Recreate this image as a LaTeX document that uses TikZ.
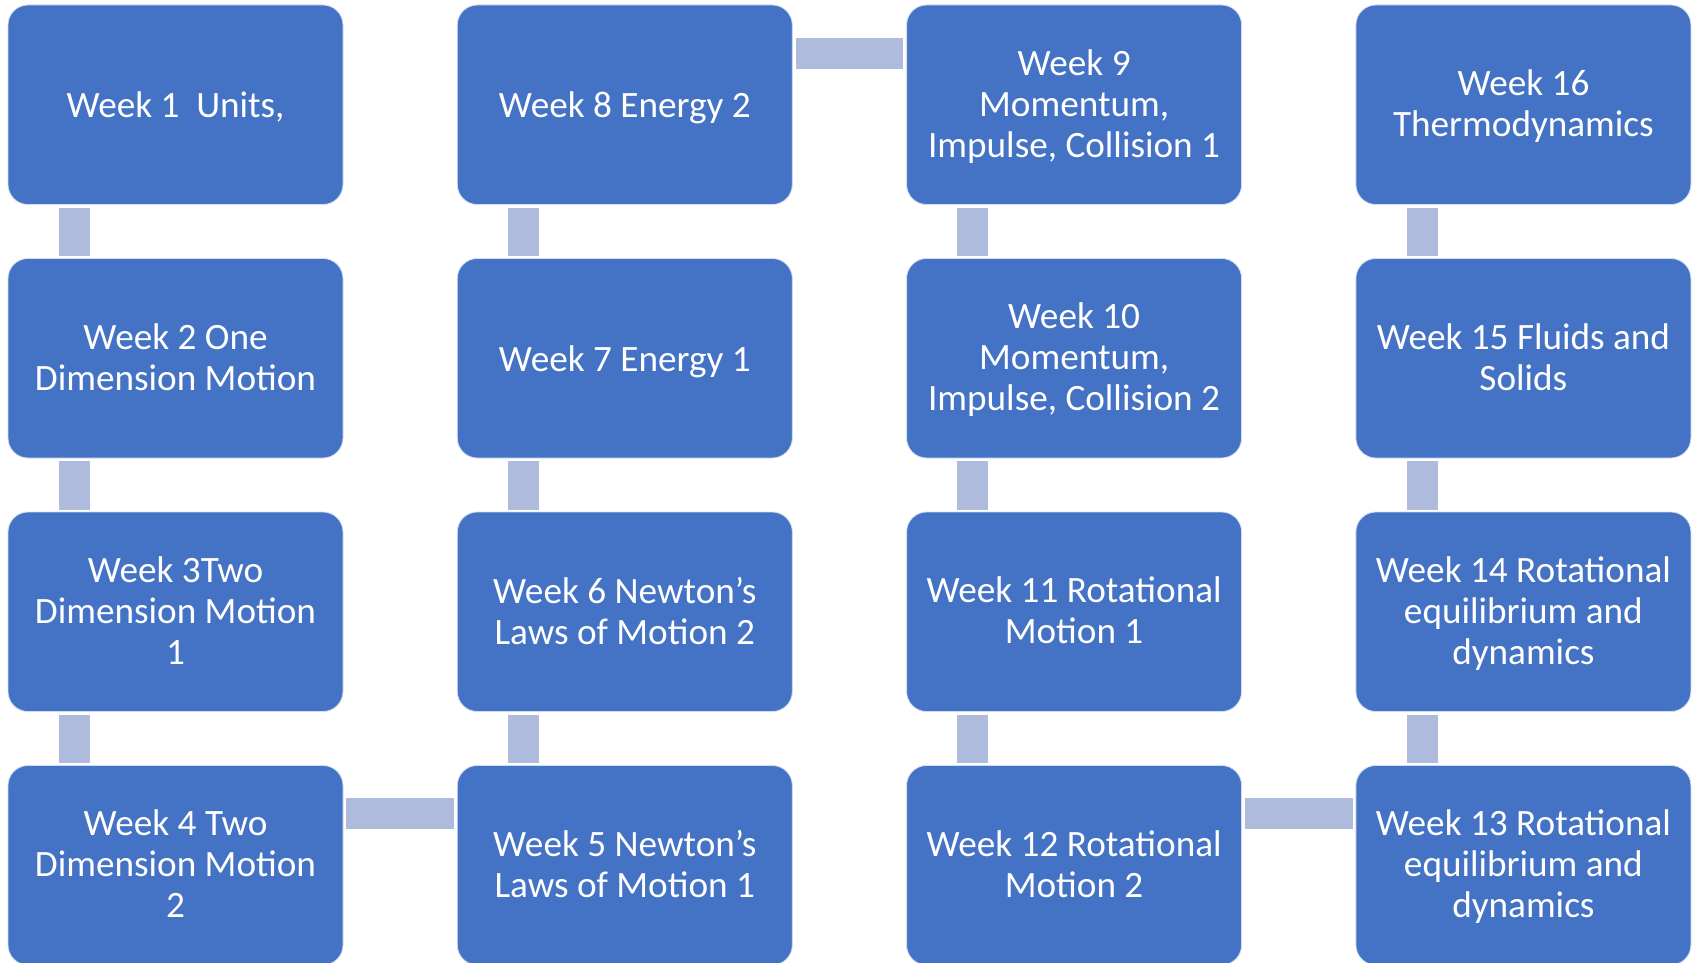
\documentclass[tikz,border=0pt]{standalone}
\usepackage{fontspec}
\setmainfont{Carlito}
\definecolor{boxblue}{HTML}{4472C4}
\definecolor{connblue}{HTML}{AFBBDD}
\newcommand\wknode[3]{%
  \node[wk] (#1) at (#2) {};
  \node[wktext] (#1t) at ([yshift=-4.8pt]#1.center) {#3};}
\begin{document}
\begin{tikzpicture}[x=1pt,y=-1pt,
  wk/.style={rectangle, rounded corners=20pt, fill=boxblue, draw=white!75!boxblue, line width=0.8pt,
    minimum width=335pt, minimum height=199.5pt, inner sep=0pt},
  wktext/.style={inner sep=0pt, align=center, text=white,
    font=\fontsize{37.2}{41}\selectfont,
    execute at begin node=\strut, execute at end node=\strut},
  conn/.style={draw=connblue, line width=31pt, line cap=butt}]
\useasboundingbox (0,0) rectangle (1694,963);
\wknode{w1}{175.5,104.75}{Week 1\ \ Units,}
\wknode{w2}{175.5,358.25}{Week 2 One\\Dimension Motion}
\wknode{w3}{175.5,611.75}{Week 3Two\\Dimension Motion\\1}
\wknode{w4}{175.5,865.25}{Week 4 Two\\Dimension Motion\\2}
\wknode{w8}{624.8,104.75}{Week 8 Energy 2}
\wknode{w7}{624.8,358.25}{Week 7 Energy 1}
\wknode{w6}{624.8,611.75}{Week 6 Newton’s\\Laws of Motion 2}
\wknode{w5}{624.8,865.25}{Week 5 Newton’s\\Laws of Motion 1}
\wknode{w9}{1074.1,104.75}{Week 9\\Momentum,\\Impulse, Collision 1}
\wknode{w10}{1074.1,358.25}{Week 10\\Momentum,\\Impulse, Collision 2}
\wknode{w11}{1074.1,611.75}{Week 11 Rotational\\Motion 1}
\wknode{w12}{1074.1,865.25}{Week 12 Rotational\\Motion 2}
\wknode{w16}{1523.4,104.75}{Week 16\\Thermodynamics}
\wknode{w15}{1523.4,358.25}{Week 15 Fluids and\\Solids}
\wknode{w14}{1523.4,611.75}{Week 14 Rotational\\equilibrium and\\dynamics}
\wknode{w13}{1523.4,865.25}{Week 13 Rotational\\equilibrium and\\dynamics}
% vertical connectors
\foreach \a/\b in {w1/w2,w2/w3,w3/w4,w8/w7,w7/w6,w6/w5,w9/w10,w10/w11,w11/w12,w16/w15,w15/w14,w14/w13}{
  \draw[conn] ([xshift=66.5pt,yshift=-3pt]\a.south west) -- ([xshift=66.5pt,yshift=2pt]\b.north west);
}
% horizontal connectors
\foreach \a/\b in {w4/w5,w8/w9,w12/w13}{
  \draw[conn] ([xshift=3pt,yshift=-48.5pt]\a.north east) -- ([xshift=-3pt,yshift=-48.5pt]\b.north west);
}
\end{tikzpicture}
\end{document}
